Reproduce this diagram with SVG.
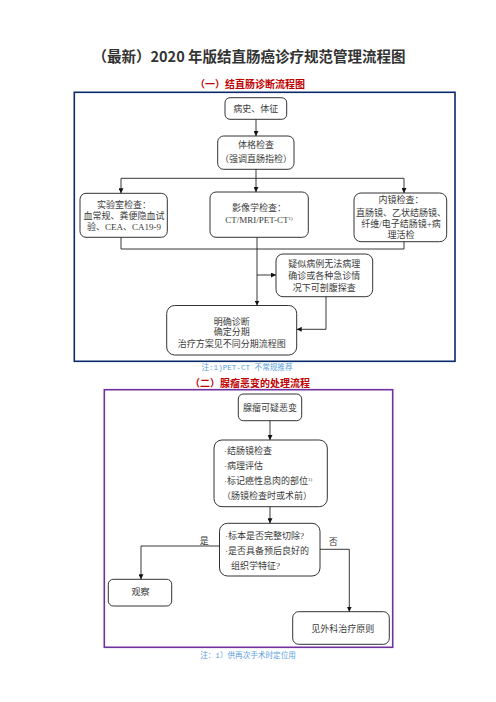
<svg xmlns="http://www.w3.org/2000/svg" width="496" height="702" viewBox="0 0 496 702">
<defs>
<marker id="ah" viewBox="0 0 8 8" refX="8" refY="4" markerWidth="5" markerHeight="5" markerUnits="userSpaceOnUse" orient="auto"><path d="M0,0 L8,4 L0,8 z" fill="#111"/></marker>
<style>
.box{fill:#fff;stroke:#333;stroke-width:1}
.t{font-family:"Liberation Serif","Noto Sans CJK SC",serif;font-size:9px;fill:#3a3a3a;text-anchor:middle}
.tl{font-family:"Liberation Serif","Noto Sans CJK SC",serif;font-size:9px;fill:#3a3a3a}
.ln{fill:none;stroke:#222;stroke-width:0.9}
.red{font-family:"Noto Sans CJK SC",sans-serif;font-size:10px;font-weight:bold;fill:#c00000;text-anchor:middle}
.note{font-family:"Liberation Mono","Noto Sans CJK SC",monospace;font-size:7.6px;fill:#5a9ee0;text-anchor:middle}
</style>
</defs>
<rect width="496" height="702" fill="#fff"/>
<text x="249" y="61.5" font-family="Noto Sans CJK SC,sans-serif" font-size="14.5" font-weight="bold" fill="#333" text-anchor="middle">（最新）2020 年版结直肠癌诊疗规范管理流程图</text>
<text class="red" x="250" y="88">（一）结直肠诊断流程图</text>
<rect x="74.3" y="92.3" width="380.7" height="269" fill="none" stroke="#0a2a6b" stroke-width="1.6"/>
<text class="note" x="247" y="370">注:1)PET-CT 不常规推荐</text>
<text class="red" x="250" y="387">（二）腺瘤恶变的处理流程</text>
<rect x="104.3" y="389.7" width="288.4" height="257.6" fill="none" stroke="#7030a0" stroke-width="1.6"/>
<text class="note" x="248" y="658">注：1）供再次手术时定位用</text>

<g id="n1"><rect class="box" x="225" y="97.7" width="61.7" height="21.6" rx="5"/><text class="t" x="255.8" y="111.5">病史、体征</text></g>
<g id="n2"><rect class="box" x="217.7" y="136" width="76.3" height="33.3" rx="6"/><text class="t" x="256" y="148">体格检查</text><text class="t" x="256" y="162">（强调直肠指检）</text></g>
<g id="n3"><rect class="box" x="80" y="193.3" width="87.3" height="44" rx="6"/><text class="t" x="124" y="207.5">实验室检查：</text><text class="t" x="124" y="218.5">血常规、粪便隐血试</text><text class="t" x="124" y="230">验、CEA、CA19-9</text></g>
<g id="n4"><rect class="box" x="210" y="192" width="98.3" height="45.3" rx="6"/><text class="t" x="259" y="210.5">影像学检查：</text><text class="t" x="259" y="223">CT/MRI/PET-CT<tspan font-size="5" dy="-3">1)</tspan></text></g>
<g id="n5"><rect class="box" x="354" y="193" width="92.7" height="48.7" rx="7"/><text class="t" x="401" y="203.3">内镜检查：</text><text class="t" x="401" y="215.5">直肠镜、乙状结肠镜、</text><text class="t" x="401" y="226.5">纤维/电子结肠镜+病</text><text class="t" x="401" y="238">理活检</text></g>
<g id="n6"><rect class="box" x="276" y="254" width="96.7" height="42.7" rx="7"/><text class="t" x="324.3" y="267">疑似病例无法病理</text><text class="t" x="324.3" y="279">确诊或各种急诊情</text><text class="t" x="324.3" y="291">况下可剖腹探查</text></g>
<g id="n7"><rect class="box" x="166.7" y="305.5" width="130" height="49.5" rx="8"/><text class="t" x="231.7" y="324.7">明确诊断</text><text class="t" x="231.7" y="335">确定分期</text><text class="t" x="231.7" y="346.5">治疗方案见不同分期流程图</text></g>

<g id="m1"><rect class="box" x="238.3" y="394" width="63.4" height="26.7" rx="5"/><text class="t" x="270" y="410.5">腺瘤可疑恶变</text></g>
<g id="m2"><rect class="box" x="214" y="440" width="113.3" height="66.7" rx="8"/><text class="tl" x="224" y="454">·结肠镜检查</text><text class="tl" x="224" y="469">·病理评估</text><text class="tl" x="224" y="483.5">·标记癌性息肉的部位<tspan font-size="5" dy="-3">1)</tspan></text><text class="tl" x="222" y="498.5">（肠镜检查时或术前）</text></g>
<g id="m3"><rect class="box" x="219.5" y="523.3" width="100.5" height="52.7" rx="8"/><text class="tl" x="225" y="539">·标本是否完整切除?</text><text class="tl" x="225" y="554">·是否具备预后良好的</text><text class="tl" x="231" y="568.5">组织学特征?</text></g>
<g id="m4"><rect class="box" x="108.3" y="579.3" width="63.4" height="26.7" rx="5"/><text class="t" x="140.5" y="595">观察</text></g>
<g id="m5"><rect class="box" x="292.7" y="611.7" width="96.6" height="32.6" rx="6"/><text class="t" x="342.7" y="631.5">见外科治疗原则</text></g>
<text class="t" x="204.3" y="544">是</text>
<text class="t" x="333.3" y="545">否</text>

<g id="connectors">
<path class="ln" d="M256,119.3 V136" marker-end="url(#ah)"/>
<path class="ln" d="M256,169.3 V178.3 M121,178.3 H404"/>
<path class="ln" d="M121,178.3 V193.3" marker-end="url(#ah)"/>
<path class="ln" d="M256,178.3 V192" marker-end="url(#ah)"/>
<path class="ln" d="M404,178.3 V193" marker-end="url(#ah)"/>
<path class="ln" d="M121,237.3 V249 H404 V241.7 M257,237.3 V249"/>
<path class="ln" d="M257,249 V305.5" marker-end="url(#ah)"/>
<path class="ln" d="M257,275 H276" marker-end="url(#ah)"/>
<path class="ln" d="M326,296.7 V329.3 H296.7" marker-end="url(#ah)"/>
<path class="ln" d="M270,420.7 V440" marker-end="url(#ah)"/>
<path class="ln" d="M270,506.7 V523.3" marker-end="url(#ah)"/>
<path class="ln" d="M219.5,546 H141 V579.3" marker-end="url(#ah)"/>
<path class="ln" d="M320,549.3 H349.3 V611.7" marker-end="url(#ah)"/>
</g>
</svg>
